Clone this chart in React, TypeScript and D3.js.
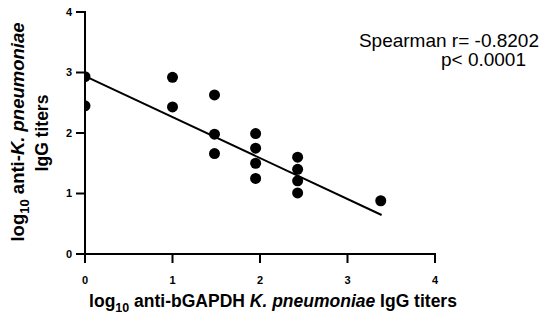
import React from "react";
import * as d3 from "d3";

const xValues = [0, 0, 1, 1, 1.48, 1.48, 1.48, 1.95, 1.95, 1.95, 1.95, 2.43, 2.43, 2.43, 2.43, 3.38];
const yValues = [2.93, 2.45, 2.92, 2.43, 2.63, 1.98, 1.66, 1.99, 1.75, 1.5, 1.25, 1.6, 1.4, 1.21, 1.01, 0.88];
const fitX = [0, 3.39];
const fitY = [2.94, 0.645];
const xTicks = [0, 1, 2, 3, 4];
const yTicks = [0, 1, 2, 3, 4];
const statLines = ["Spearman r= -0.8202", "p< 0.0001"];

const W = 549;
const H = 325;
const FONT = "Arial, 'Liberation Sans', Helvetica, sans-serif";

export default function App() {
  const x = d3.scaleLinear().domain([0, 4]).range([85, 435]);
  const y = d3.scaleLinear().domain([0, 4]).range([254, 12]);
  const line = d3
    .line<number>()
    .x((d) => x(fitX[d]))
    .y((d) => y(fitY[d]));
  const pts = xValues.map((v, i) => ({ x: v, y: yValues[i] }));
  return (
    <div style={{ position: "absolute", left: 0, top: 0 }}>
      <svg width={W} height={H} style={{ display: "block", background: "#fff" }} fontFamily={FONT}>
        <defs>
          <clipPath id="plotclip">
            <rect x={x(0)} y={0} width={x(4) - x(0) + 10} height={y(0)} />
          </clipPath>
        </defs>
        <g clipPath="url(#plotclip)">
          {pts.map((p, i) => (
            <circle key={i} cx={x(p.x)} cy={y(p.y)} r={5.5} fill="#000" />
          ))}
        </g>
        <path d={line([0, 1]) || ""} stroke="#000" strokeWidth={2} fill="none" />
        {/* axes */}
        <line x1={x(0)} x2={x(0)} y1={y(4) - 1} y2={y(0) + 1} stroke="#000" strokeWidth={2} />
        <line x1={x(0) - 1} x2={x(4) + 1} y1={y(0)} y2={y(0)} stroke="#000" strokeWidth={2} />
        {yTicks.map((t) => (
          <g key={"y" + t}>
            <line x1={x(0) - 9} x2={x(0)} y1={y(t)} y2={y(t)} stroke="#000" strokeWidth={2} />
            <text x={x(0) - 13} y={y(t)} dy="0.35em" textAnchor="end" fontSize={11} fontWeight="bold">
              {t}
            </text>
          </g>
        ))}
        {xTicks.map((t) => (
          <g key={"x" + t}>
            <line x1={x(t)} x2={x(t)} y1={y(0)} y2={y(0) + 9} stroke="#000" strokeWidth={2} />
            <text x={x(t)} y={284} textAnchor="middle" fontSize={11} fontWeight="bold">
              {t}
            </text>
          </g>
        ))}
        {/* stats */}
        <text x={539} y={47} textAnchor="end" fontSize={19}>
          {statLines[0]}
        </text>
        <text x={526} y={66} textAnchor="end" fontSize={19}>
          {statLines[1]}
        </text>
        {/* x label */}
        <text x={273} y={307} textAnchor="middle" fontSize={17.5} fontWeight="bold">
          <tspan>log</tspan>
          <tspan fontSize={12.5} dy={5}>10</tspan>
          <tspan dy={-5}> anti-bGAPDH </tspan>
          <tspan fontStyle="italic">K. pneumoniae</tspan>
          <tspan> IgG titers</tspan>
        </text>
        {/* y label */}
        <g transform={`translate(24,132) rotate(-90)`}>
          <text x={0} y={0} textAnchor="middle" fontSize={18.5} fontWeight="bold">
            <tspan>log</tspan>
            <tspan fontSize={13} dy={5}>10</tspan>
            <tspan dy={-5}> anti-</tspan>
            <tspan fontStyle="italic">K. pneumoniae</tspan>
          </text>
          <text x={-1} y={24} textAnchor="middle" fontSize={17.5} fontWeight="bold">
            IgG titers
          </text>
        </g>
      </svg>
    </div>
  );
}
